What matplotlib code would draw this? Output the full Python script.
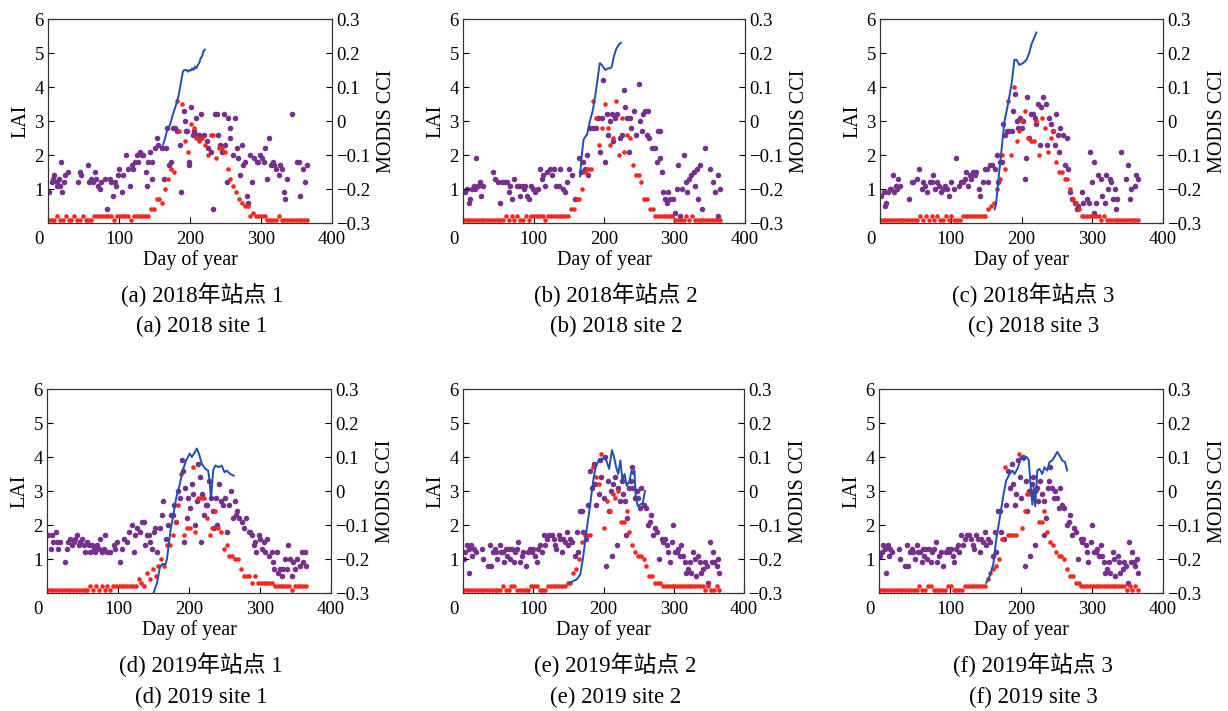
import numpy as np
import matplotlib
matplotlib.use("Agg")
import matplotlib.pyplot as plt
from matplotlib.transforms import ScaledTranslation

plt.rcParams['font.family'] = ['Liberation Serif', 'Noto Sans CJK SC']
plt.rcParams['axes.unicode_minus'] = True

# MODIS 4-day LAI, stored in units of 0.1
modis_days = list(range(1, 366, 4))
red_a = [1, 1, 1, 2, 1, 1, 2, 1, 1, 2,
         1, 1, 2, 1, 1, 1, 2, 2, 2, 2,
         2, 2, 2, 1, 2, 2, 2, 2, 2, 1,
         2, 2, 2, 2, 2, 2, 4, 4, 7, 7,
         6, 10, 13, 16, 15, 36, 27, 35, 24, 21,
         29, 28, 25, 24, 25, 23, 20, 26, 26, 19,
         22, 22, 21, 16, 13, 11, 9, 7, 6, 5,
         5, 2, 3, 2, 2, 2, 2, 1, 1, 1,
         1, 2, 1, 1, 1, 1, 1, 1, 1, 1,
         1, 1]
red_b = [1, 1, 1, 1, 1, 1, 1, 1, 1, 1,
         1, 1, 1, 1, 1, 2, 1, 2, 1, 2,
         1, 1, 2, 1, 2, 2, 2, 2, 2, 1,
         2, 2, 2, 2, 2, 2, 2, 2, 4, 4,
         7, 7, 10, 15, 16, 16, 36, 31, 23, 28,
         35, 28, 23, 25, 36, 20, 31, 21, 26, 25,
         17, 14, 14, 12, 7, 7, 4, 4, 2, 2,
         2, 2, 2, 2, 2, 1, 1, 1, 1, 2,
         1, 2, 1, 1, 1, 1, 1, 1, 1, 1,
         1, 1]
red_c = [1, 1, 1, 1, 1, 1, 1, 1, 1, 1,
         1, 1, 1, 1, 2, 1, 2, 1, 2, 1,
         2, 1, 1, 2, 1, 2, 1, 1, 1, 2,
         2, 2, 2, 2, 2, 2, 2, 2, 4, 5,
         6, 10, 13, 20, 16, 36, 20, 40, 24, 27,
         30, 33, 25, 24, 24, 30, 20, 31, 28, 21,
         25, 27, 18, 15, 15, 13, 13, 10, 7, 6,
         4, 2, 2, 2, 2, 2, 2, 2, 1, 2,
         1, 1, 1, 1, 1, 1, 1, 1, 1, 1,
         1, 1]
red_d = [1, 1, 1, 1, 1, 1, 1, 1, 1, 1,
         1, 1, 1, 1, 1, 2, 1, 2, 1, 2,
         1, 2, 1, 2, 2, 2, 2, 2, 2, 2,
         2, 2, 4, 3, 2, 6, 4, 7, 5, 8,
         10, 8, 14, 14, 17, 21, 26, 35, 17, 19,
         19, 37, 18, 28, 28, 28, 22, 17, 19, 24,
         19, 18, 13, 14, 11, 11, 10, 10, 7, 5,
         5, 5, 3, 5, 3, 3, 3, 3, 3, 3,
         2, 2, 2, 2, 2, 2, 1, 2, 2, 2,
         2, 2]
red_e = [1, 1, 1, 1, 1, 1, 1, 1, 1, 1,
         1, 1, 1, 1, 2, 1, 1, 2, 2, 1,
         1, 1, 1, 1, 2, 2, 2, 1, 1, 1,
         2, 2, 2, 2, 2, 2, 2, 3, 3, 6,
         7, 10, 15, 17, 17, 17, 37, 34, 32, 41,
         19, 27, 24, 29, 28, 30, 21, 21, 24, 18,
         14, 12, 11, 11, 10, 8, 5, 5, 3, 3,
         3, 2, 2, 2, 2, 2, 2, 2, 2, 2,
         2, 2, 2, 2, 2, 2, 1, 2, 1, 1,
         2, 1]
red_f = [1, 1, 1, 1, 1, 1, 1, 1, 1, 1,
         1, 1, 1, 1, 2, 1, 1, 2, 2, 1,
         1, 1, 1, 1, 2, 2, 1, 1, 1, 1,
         2, 2, 2, 2, 2, 2, 2, 2, 4, 6,
         7, 8, 10, 16, 37, 17, 17, 17, 17, 41,
         19, 24, 29, 29, 30, 30, 21, 21, 24, 18,
         15, 14, 12, 11, 11, 10, 7, 5, 5, 3,
         3, 2, 2, 2, 2, 2, 2, 2, 2, 2,
         2, 2, 2, 2, 2, 2, 2, 1, 2, 1,
         2, 1]

# MODIS CCI (day, value)
cci_a = [(1, -0.21), (5, -0.18), (7, -0.17), (9, -0.16), (12, -0.18), (13, -0.19), (16, -0.17),
         (17, -0.19), (19, -0.12), (20, -0.21), (22, -0.18), (24, -0.16), (28, -0.15), (42, -0.18),
         (45, -0.15), (47, -0.16), (56, -0.13), (58, -0.18), (61, -0.17), (64, -0.18), (66, -0.15),
         (68, -0.17), (71, -0.19), (73, -0.20), (75, -0.18), (80, -0.17), (83, -0.26), (87, -0.17),
         (89, -0.18), (92, -0.22), (94, -0.18), (96, -0.19), (99, -0.16), (100, -0.14), (104, -0.21),
         (106, -0.16), (110, -0.10), (112, -0.14), (115, -0.19), (118, -0.13), (120, -0.14),
         (122, -0.12), (125, -0.10), (127, -0.12), (129, -0.09), (132, -0.10), (134, -0.10),
         (138, -0.15), (140, -0.19), (141, -0.12), (144, -0.09), (146, -0.17), (147, -0.12),
         (151, -0.08), (153, -0.05), (155, -0.07), (160, -0.08), (163, -0.17), (166, -0.08),
         (168, -0.02), (171, -0.13), (173, -0.12), (176, -0.02), (179, -0.02), (182, -0.03),
         (186, -0.07), (188, -0.21), (191, 0.03), (193, 0.00), (194, -0.03), (196, -0.03),
         (198, -0.13), (199, -0.12), (201, 0.04), (204, -0.04), (206, -0.03), (208, 0.01),
         (210, -0.04), (213, -0.04), (214, -0.05), (216, 0.02), (220, -0.04), (224, -0.06),
         (226, -0.08), (229, -0.09), (232, -0.26), (235, 0.02), (238, 0.02), (240, -0.04),
         (242, -0.07), (245, -0.09), (248, 0.02), (249, -0.07), (252, -0.18), (254, 0.01),
         (256, -0.02), (257, -0.05), (260, -0.10), (264, 0.01), (266, -0.08), (268, -0.11),
         (271, -0.16), (273, -0.07), (275, -0.13), (278, -0.12), (280, -0.22), (282, -0.24),
         (285, -0.10), (287, -0.18), (290, -0.11), (294, -0.12), (296, -0.12), (299, -0.10),
         (301, -0.11), (304, -0.12), (306, -0.08), (308, -0.17), (311, -0.05), (314, -0.13),
         (317, -0.12), (319, -0.13), (321, -0.14), (325, -0.16), (327, -0.13), (329, -0.14),
         (332, -0.21), (334, -0.23), (336, -0.17), (343, 0.02), (351, -0.12), (353, -0.12),
         (355, -0.22), (359, -0.14), (362, -0.18), (365, -0.13)]
cci_b = [(3, -0.21), (6, -0.20), (8, -0.24), (10, -0.23), (13, -0.20), (15, -0.19), (17, -0.20),
         (19, -0.11), (21, -0.19), (24, -0.18), (26, -0.22), (28, -0.19), (43, -0.15), (46, -0.17),
         (49, -0.18), (53, -0.24), (55, -0.18), (59, -0.18), (62, -0.18), (65, -0.21), (67, -0.19),
         (69, -0.23), (73, -0.17), (76, -0.19), (79, -0.19), (81, -0.22), (84, -0.19), (86, -0.20),
         (88, -0.19), (91, -0.22), (94, -0.23), (96, -0.19), (99, -0.20), (102, -0.21), (106, -0.20),
         (109, -0.14), (112, -0.17), (114, -0.16), (117, -0.19), (119, -0.15), (123, -0.14),
         (126, -0.16), (129, -0.14), (132, -0.19), (136, -0.19), (138, -0.14), (142, -0.20),
         (145, -0.21), (148, -0.18), (151, -0.14), (154, -0.16), (159, -0.23), (164, -0.11),
         (167, -0.15), (170, -0.12), (173, -0.14), (176, -0.10), (178, -0.16), (180, -0.02),
         (184, -0.02), (188, -0.02), (192, 0.01), (195, -0.09), (197, 0.01), (199, 0.12),
         (202, -0.12), (204, 0.02), (206, -0.04), (209, 0.00), (211, 0.02), (213, -0.06),
         (216, 0.01), (218, 0.02), (222, -0.05), (225, -0.04), (228, 0.09), (230, 0.04),
         (232, 0.01), (235, -0.09), (237, 0.01), (239, -0.02), (242, 0.03), (246, -0.04),
         (249, 0.11), (251, 0.00), (254, -0.03), (256, 0.02), (258, 0.03), (261, -0.04),
         (263, 0.03), (264, -0.05), (268, -0.08), (272, -0.08), (275, -0.12), (276, -0.03),
         (279, -0.03), (280, -0.11), (282, -0.15), (284, -0.21), (287, -0.23), (289, -0.24),
         (291, -0.21), (294, -0.23), (298, -0.23), (301, -0.27), (303, -0.20), (305, -0.13),
         (308, -0.28), (310, -0.20), (313, -0.10), (316, -0.18), (318, -0.21), (321, -0.17),
         (324, -0.16), (327, -0.15), (329, -0.19), (332, -0.14), (334, -0.23), (336, -0.13),
         (339, -0.26), (343, -0.08), (350, -0.14), (355, -0.18), (358, -0.21), (361, -0.28),
         (362, -0.16), (365, -0.20)]
cci_c = [(1, -0.22), (5, -0.21), (7, -0.25), (8, -0.24), (12, -0.21), (14, -0.20), (16, -0.20),
         (18, -0.16), (20, -0.21), (23, -0.19), (24, -0.20), (26, -0.17), (28, -0.19), (41, -0.23),
         (45, -0.18), (47, -0.18), (52, -0.17), (55, -0.14), (59, -0.20), (61, -0.18), (64, -0.19),
         (66, -0.21), (70, -0.18), (73, -0.18), (75, -0.16), (78, -0.20), (81, -0.18), (84, -0.19),
         (86, -0.21), (89, -0.20), (92, -0.19), (94, -0.20), (98, -0.22), (101, -0.18), (104, -0.20),
         (107, -0.11), (111, -0.19), (114, -0.18), (117, -0.18), (120, -0.17), (122, -0.15),
         (125, -0.19), (127, -0.16), (129, -0.17), (132, -0.15), (134, -0.16), (136, -0.15),
         (140, -0.20), (142, -0.22), (146, -0.18), (148, -0.14), (151, -0.14), (153, -0.18),
         (155, -0.13), (159, -0.13), (162, -0.14), (165, -0.10), (167, -0.18), (169, -0.12),
         (172, -0.12), (174, -0.01), (176, -0.04), (179, -0.03), (183, -0.03), (186, -0.03),
         (188, 0.03), (191, 0.08), (193, 0.00), (195, -0.02), (198, 0.01), (200, -0.02),
         (202, 0.00), (205, -0.17), (206, -0.11), (208, 0.07), (211, -0.05), (213, 0.02),
         (216, 0.02), (219, 0.01), (221, -0.01), (224, 0.05), (226, -0.07), (228, 0.04),
         (231, 0.07), (234, 0.05), (236, -0.07), (239, 0.01), (242, -0.01), (245, -0.03),
         (247, -0.07), (249, 0.02), (252, -0.04), (253, -0.09), (255, -0.02), (258, -0.04),
         (261, -0.13), (264, -0.05), (266, -0.14), (269, -0.21), (272, -0.23), (275, -0.24),
         (278, -0.26), (280, -0.25), (285, -0.21), (287, -0.24), (292, -0.23), (296, -0.24),
         (297, -0.09), (300, -0.18), (302, -0.12), (303, -0.27), (306, -0.24), (308, -0.16),
         (312, -0.17), (314, -0.22), (318, -0.24), (320, -0.16), (322, -0.20), (325, -0.17),
         (327, -0.18), (329, -0.23), (332, -0.20), (333, -0.26), (335, -0.23), (341, -0.09),
         (348, -0.17), (351, -0.13), (353, -0.23), (355, -0.20), (360, -0.19), (362, -0.16),
         (365, -0.17)]
cci_d = [(2, -0.13), (5, -0.17), (7, -0.13), (9, -0.15), (12, -0.12), (14, -0.15), (16, -0.17),
         (19, -0.15), (26, -0.21), (28, -0.17), (30, -0.15), (33, -0.14), (35, -0.16), (38, -0.15),
         (40, -0.14), (42, -0.13), (45, -0.16), (47, -0.15), (49, -0.14), (52, -0.16), (54, -0.18),
         (56, -0.15), (59, -0.16), (61, -0.18), (63, -0.16), (66, -0.17), (68, -0.18), (70, -0.16),
         (73, -0.17), (75, -0.14), (77, -0.18), (80, -0.17), (82, -0.13), (84, -0.18), (89, -0.18),
         (94, -0.16), (96, -0.17), (98, -0.15), (103, -0.21), (105, -0.17), (108, -0.14),
         (112, -0.15), (115, -0.12), (120, -0.10), (122, -0.18), (124, -0.13), (127, -0.11),
         (131, -0.12), (134, -0.09), (136, -0.09), (138, -0.16), (141, -0.13), (143, -0.13),
         (145, -0.15), (148, -0.17), (150, -0.12), (152, -0.11), (155, -0.18), (159, -0.11),
         (162, -0.07), (164, -0.03), (167, -0.14), (171, -0.10), (174, -0.07), (177, -0.07),
         (179, -0.04), (182, -0.09), (184, 0.00), (187, -0.02), (190, 0.09), (191, 0.06),
         (193, -0.15), (195, 0.01), (197, -0.08), (199, -0.02), (202, -0.05), (204, 0.02),
         (206, -0.01), (209, -0.10), (211, -0.03), (213, 0.08), (216, 0.04), (217, -0.15),
         (219, -0.01), (221, -0.07), (224, -0.04), (226, -0.04), (228, 0.03), (231, -0.02),
         (234, -0.06), (235, -0.11), (238, -0.02), (240, -0.10), (242, 0.02), (245, -0.03),
         (248, -0.04), (251, -0.02), (253, -0.12), (256, -0.04), (259, 0.00), (262, -0.08),
         (265, -0.03), (266, -0.07), (268, -0.06), (271, -0.08), (274, -0.09), (278, -0.11),
         (280, -0.08), (284, -0.12), (286, -0.12), (289, -0.13), (292, -0.16), (293, -0.15),
         (295, -0.18), (298, -0.13), (300, -0.14), (303, -0.17), (305, -0.15), (307, -0.18),
         (310, -0.14), (312, -0.19), (317, -0.18), (319, -0.21), (320, -0.23), (324, -0.18),
         (326, -0.24), (328, -0.23), (331, -0.25), (333, -0.23), (335, -0.20), (338, -0.23),
         (340, -0.16), (342, -0.20), (345, -0.25), (347, -0.21), (349, -0.23), (352, -0.20),
         (356, -0.22), (359, -0.18), (361, -0.21), (364, -0.18), (365, -0.22)]
cci_e = [(2, -0.20), (3, -0.18), (6, -0.16), (8, -0.17), (9, -0.24), (11, -0.16), (13, -0.19),
         (15, -0.17), (18, -0.18), (27, -0.17), (29, -0.20), (35, -0.22), (38, -0.16), (40, -0.22),
         (43, -0.18), (45, -0.17), (47, -0.18), (49, -0.20), (52, -0.16), (54, -0.18), (57, -0.18),
         (59, -0.21), (61, -0.17), (62, -0.19), (65, -0.17), (67, -0.20), (70, -0.17), (72, -0.21),
         (74, -0.18), (77, -0.17), (79, -0.15), (81, -0.21), (84, -0.19), (86, -0.18), (89, -0.22),
         (93, -0.18), (96, -0.17), (98, -0.18), (100, -0.17), (103, -0.19), (105, -0.21),
         (107, -0.17), (110, -0.16), (112, -0.18), (115, -0.13), (117, -0.16), (120, -0.14),
         (123, -0.13), (126, -0.13), (129, -0.14), (131, -0.16), (133, -0.17), (136, -0.13),
         (138, -0.14), (141, -0.18), (143, -0.14), (145, -0.15), (148, -0.12), (150, -0.16),
         (152, -0.14), (155, -0.15), (160, -0.19), (162, -0.12), (164, -0.18), (167, -0.06),
         (169, -0.06), (171, -0.12), (175, -0.14), (178, -0.04), (181, 0.06), (183, 0.01),
         (186, 0.08), (188, 0.02), (190, -0.04), (193, -0.01), (195, 0.09), (197, 0.04),
         (200, -0.02), (202, 0.10), (204, -0.22), (207, 0.03), (208, -0.06), (210, 0.00),
         (212, -0.19), (214, 0.02), (216, 0.04), (219, -0.16), (221, 0.01), (223, -0.03),
         (226, 0.03), (228, -0.01), (231, -0.03), (232, -0.13), (234, -0.08), (237, 0.01),
         (239, 0.03), (240, 0.07), (242, 0.01), (245, -0.02), (247, 0.00), (249, -0.02),
         (252, -0.05), (254, 0.01), (257, -0.04), (260, -0.05), (264, -0.10), (266, -0.09),
         (268, -0.07), (271, -0.13), (273, -0.11), (276, -0.12), (279, -0.20), (283, -0.14),
         (285, -0.15), (287, -0.14), (290, -0.16), (292, -0.18), (294, -0.21), (297, -0.15),
         (299, -0.10), (302, -0.18), (304, -0.18), (306, -0.17), (309, -0.19), (311, -0.16),
         (313, -0.19), (316, -0.21), (318, -0.24), (320, -0.23), (323, -0.21), (325, -0.24),
         (328, -0.18), (330, -0.20), (332, -0.25), (335, -0.19), (337, -0.21), (339, -0.24),
         (342, -0.23), (344, -0.21), (347, -0.22), (349, -0.27), (351, -0.15), (354, -0.21),
         (356, -0.18), (358, -0.21), (361, -0.22), (363, -0.20), (365, -0.24)]
cci_f = [(2, -0.19), (4, -0.18), (6, -0.16), (8, -0.17), (10, -0.24), (12, -0.16), (14, -0.19),
         (16, -0.17), (19, -0.18), (28, -0.17), (30, -0.20), (36, -0.22), (39, -0.16), (41, -0.22),
         (44, -0.18), (46, -0.17), (48, -0.18), (50, -0.20), (53, -0.16), (55, -0.18), (58, -0.18),
         (60, -0.21), (62, -0.17), (64, -0.19), (66, -0.17), (68, -0.20), (71, -0.17), (73, -0.21),
         (75, -0.18), (78, -0.17), (80, -0.15), (82, -0.21), (85, -0.19), (87, -0.18), (90, -0.22),
         (94, -0.18), (97, -0.17), (99, -0.18), (101, -0.17), (104, -0.19), (106, -0.21),
         (108, -0.17), (111, -0.16), (113, -0.18), (116, -0.13), (118, -0.16), (121, -0.14),
         (124, -0.13), (127, -0.13), (130, -0.14), (132, -0.16), (134, -0.17), (137, -0.13),
         (139, -0.14), (142, -0.18), (144, -0.14), (146, -0.15), (149, -0.12), (151, -0.16),
         (153, -0.14), (156, -0.15), (161, -0.19), (163, -0.12), (165, -0.18), (168, -0.06),
         (170, -0.06), (172, -0.12), (176, -0.14), (179, -0.04), (182, 0.06), (184, 0.01),
         (187, 0.08), (189, 0.02), (191, -0.04), (193, -0.01), (196, 0.09), (198, 0.04),
         (200, -0.02), (203, 0.10), (205, -0.22), (207, 0.03), (209, -0.06), (211, 0.00),
         (213, -0.19), (215, 0.02), (217, 0.04), (220, -0.16), (222, 0.01), (224, -0.03),
         (227, 0.03), (229, -0.01), (232, -0.03), (233, -0.13), (235, -0.08), (238, 0.01),
         (240, 0.03), (241, 0.07), (243, 0.01), (246, -0.02), (248, 0.00), (250, -0.02),
         (253, -0.05), (255, 0.01), (258, -0.04), (261, -0.05), (265, -0.10), (267, -0.09),
         (269, -0.07), (272, -0.13), (274, -0.11), (277, -0.12), (280, -0.20), (284, -0.14),
         (286, -0.15), (288, -0.14), (291, -0.16), (293, -0.18), (295, -0.21), (298, -0.15),
         (300, -0.10), (303, -0.18), (305, -0.18), (307, -0.17), (310, -0.19), (312, -0.16),
         (314, -0.19), (317, -0.21), (319, -0.24), (321, -0.23), (324, -0.21), (326, -0.24),
         (329, -0.18), (331, -0.20), (333, -0.25), (336, -0.19), (338, -0.21), (340, -0.24),
         (343, -0.23), (345, -0.21), (348, -0.22), (350, -0.27), (352, -0.15), (355, -0.21),
         (357, -0.18), (359, -0.21), (361, -0.22), (363, -0.20), (365, -0.24)]

# ground LAI (day, LAI)
lai_a = [(162, 2.3), (165, 2.5), (168, 2.75), (172, 2.9), (176, 3.2), (180, 3.45), (184, 3.75),
         (187, 4.1), (190, 4.45), (192, 4.5), (195, 4.5), (197, 4.45), (199, 4.5), (201, 4.48),
         (203, 4.55), (205, 4.5), (207, 4.6), (209, 4.55), (211, 4.65), (213, 4.7), (215, 4.85),
         (217, 4.9), (219, 5.05), (221, 5.1)]
lai_b = [(166, 1.37), (168, 1.9), (171, 2.45), (174, 2.55), (176, 2.6), (180, 3.0), (184, 3.3),
         (188, 3.8), (191, 4.25), (194, 4.7), (197, 4.65), (200, 4.55), (202, 4.5), (206, 4.55),
         (209, 4.55), (211, 4.6), (214, 4.9), (217, 5.1), (221, 5.25), (224, 5.3)]
lai_c = [(162, 0.4), (164, 0.55), (167, 1.2), (172, 2.2), (176, 3.0), (181, 3.5), (186, 4.1),
         (190, 4.8), (193, 4.8), (197, 4.65), (202, 4.7), (207, 4.8), (211, 5.0), (214, 5.25),
         (217, 5.4), (221, 5.6)]
lai_d = [(150, 0.0), (155, 0.3), (159, 0.75), (162, 0.85), (167, 0.85), (169, 1.0), (174, 1.85),
         (178, 2.3), (182, 2.8), (187, 3.2), (191, 3.6), (196, 3.9), (201, 4.1), (204, 4.0),
         (207, 4.1), (211, 4.25), (214, 4.1), (218, 3.8), (223, 3.65), (227, 3.6), (229, 3.3),
         (231, 2.75), (234, 3.6), (237, 3.75), (242, 3.7), (246, 3.75), (250, 3.55), (253, 3.6),
         (258, 3.5), (263, 3.45)]
lai_e = [(152, 0.3), (157, 0.35), (162, 0.4), (167, 0.55), (171, 1.05), (176, 1.85), (181, 2.6),
         (186, 3.4), (189, 3.7), (193, 3.9), (197, 3.95), (201, 3.95), (204, 3.9), (208, 3.65),
         (212, 4.2), (215, 4.0), (218, 3.7), (221, 3.5), (224, 3.9), (227, 3.3), (230, 3.5),
         (233, 3.15), (237, 3.3), (240, 3.6), (242, 3.5), (244, 3.6), (246, 2.8), (249, 2.55),
         (252, 2.6), (256, 2.65), (259, 3.0)]
lai_f = [(151, 0.3), (156, 0.5), (161, 0.85), (165, 1.55), (170, 2.2), (175, 2.85), (179, 3.3),
         (184, 3.5), (188, 3.6), (191, 3.5), (196, 3.7), (200, 4.0), (204, 3.9), (208, 4.0),
         (211, 3.9), (213, 3.3), (216, 2.6), (218, 3.1), (220, 2.55), (223, 3.6), (226, 3.65),
         (230, 3.5), (233, 3.7), (237, 3.6), (240, 3.85), (244, 3.9), (247, 4.0), (251, 4.15),
         (254, 4.05), (258, 3.9), (262, 3.85), (265, 3.6)]

captions_cn = ["(a) 2018年站点 1", "(b) 2018年站点 2", "(c) 2018年站点 3",
               "(d) 2019年站点 1", "(e) 2019年站点 2", "(f) 2019年站点 3"]
captions_en = ["(a) 2018 site 1", "(b) 2018 site 2", "(c) 2018 site 3",
               "(d) 2019 site 1", "(e) 2019 site 2", "(f) 2019 site 3"]
x_ticks = [0, 100, 200, 300, 400]
lai_ticks = [1, 2, 3, 4, 5, 6]
cci_ticks = [-0.3, -0.2, -0.1, 0, 0.1, 0.2, 0.3]
cci_ticklabels = ["\u22120.3", "\u22120.2", "\u22120.1", "0", "0.1", "0.2", "0.3"]

panels = [(red_a, cci_a, lai_a), (red_b, cci_b, lai_b), (red_c, cci_c, lai_c),
          (red_d, cci_d, lai_d), (red_e, cci_e, lai_e), (red_f, cci_f, lai_f)]

W, H = 1228, 711
fig = plt.figure(figsize=(W / 100, H / 100), dpi=100)

# axes boxes in pixels: left, right, top, bottom
boxes = [(48, 332, 19, 223), (463, 745, 19, 223), (880, 1163, 19, 223),
         (47, 331, 389, 593), (463, 744, 389, 593), (879, 1163, 389, 593)]
cap_y = [(295, 326)] * 3 + [(665, 697)] * 3

purple = '#77308f'
red = '#f5281e'
blue = '#1f4fb0'
tick_fs = 13.5
label_fs = 14.5

for i, (red_v, cci_v, lai_v) in enumerate(panels):
    x0, x1, y0, y1 = boxes[i]
    ax = fig.add_axes([x0 / W, 1 - y1 / H, (x1 - x0) / W, (y1 - y0) / H])
    ax2 = ax.twinx()
    # LAI axis on top so the line sits over the CCI dots
    ax.set_zorder(ax2.get_zorder() + 1)
    ax.patch.set_visible(False)

    cd, cv = zip(*cci_v)
    ax2.plot(cd, cv, 'o', color=purple, ms=4.0, mec='none')
    ax.plot(modis_days, np.array(red_v) / 10, 'o', color=red, ms=3.3, mec='none')
    ld, lv = zip(*lai_v)
    ax.plot(ld, lv, '-', color=blue, lw=1.4)

    ax.set_xlim(0, 400)
    ax.set_ylim(0, 6)
    ax2.set_ylim(-0.3, 0.3)
    ax.set_xticks(x_ticks)
    ax.set_yticks(lai_ticks)
    ax2.set_yticks(cci_ticks)
    ax2.set_yticklabels(cci_ticklabels)
    ax.tick_params(direction='in', labelsize=tick_fs, length=4, width=0.8, pad=3)
    ax.tick_params(axis='x', pad=6)
    ax2.tick_params(direction='in', labelsize=tick_fs, length=4, width=0.8, pad=3)
    # the zero label sits a little left of the corner
    zero = ax.get_xticklabels()[0]
    zero.set_transform(zero.get_transform() + ScaledTranslation(-0.09, 0, fig.dpi_scale_trans))
    for a in (ax, ax2):
        for s in a.spines.values():
            s.set_linewidth(0.8)
            s.set_color('#333333')
    ax.set_xlabel("Day of year", fontsize=label_fs, labelpad=1)
    ax.set_ylabel("LAI", fontsize=label_fs, labelpad=3)
    ax2.set_ylabel("MODIS CCI", fontsize=label_fs, labelpad=5)

    cx = (x0 + x1) / 2 + 12
    fig.text(cx / W, 1 - cap_y[i][0] / H, captions_cn[i], fontsize=16.5,
             ha='center', va='center')
    fig.text(cx / W, 1 - cap_y[i][1] / H, captions_en[i], fontsize=16.5,
             ha='center', va='center')

fig.savefig("out.png", dpi=100)
